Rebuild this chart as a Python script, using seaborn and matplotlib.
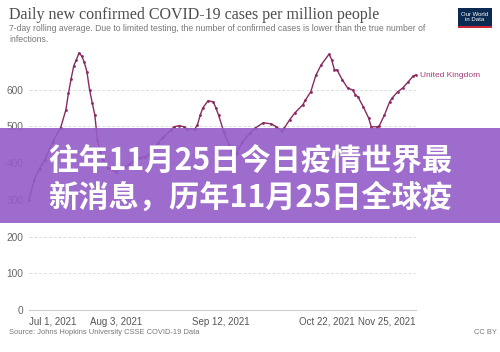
import matplotlib
matplotlib.use("Agg")
import matplotlib.pyplot as plt
import seaborn as sns
import pandas as pd
from matplotlib.patches import Rectangle

# ---------------- data ----------------
dates = [
    "2021-07-01", "2021-07-03", "2021-07-05", "2021-07-07", "2021-07-10", "2021-07-13",
    "2021-07-15", "2021-07-16", "2021-07-17", "2021-07-18", "2021-07-19", "2021-07-20",
    "2021-07-21", "2021-07-22", "2021-07-23", "2021-07-24", "2021-07-25", "2021-07-26",
    "2021-07-27", "2021-07-28", "2021-07-29", "2021-07-31", "2021-08-03", "2021-08-06",
    "2021-08-08", "2021-08-10", "2021-08-12", "2021-08-14", "2021-08-16", "2021-08-17",
    "2021-08-19", "2021-08-21", "2021-08-24", "2021-08-25", "2021-08-27", "2021-08-29",
    "2021-08-30", "2021-09-02", "2021-09-03", "2021-09-04", "2021-09-05", "2021-09-07",
    "2021-09-09", "2021-09-10", "2021-09-11", "2021-09-13", "2021-09-15", "2021-09-17",
    "2021-09-18", "2021-09-20", "2021-09-23", "2021-09-25", "2021-09-28", "2021-10-01",
    "2021-10-03", "2021-10-05", "2021-10-06", "2021-10-08", "2021-10-10", "2021-10-13",
    "2021-10-14", "2021-10-16", "2021-10-18", "2021-10-20", "2021-10-23", "2021-10-24",
    "2021-10-25", "2021-10-26", "2021-10-28", "2021-10-30", "2021-11-01", "2021-11-02",
    "2021-11-03", "2021-11-05", "2021-11-07", "2021-11-08", "2021-11-10", "2021-11-11",
    "2021-11-13", "2021-11-15", "2021-11-16", "2021-11-18", "2021-11-20", "2021-11-22",
    "2021-11-24", "2021-11-25",
]
cases_per_million = [
    300, 355, 385, 409, 458, 496,
    545, 591, 630, 665, 682, 700,
    692, 675, 649, 600, 565, 531,
    463, 430, 409, 387, 376, 390,
    395, 409, 415, 417, 425, 436,
    455, 471, 490, 499, 502, 499,
    493, 493, 505, 530, 550, 570,
    567, 550, 531, 485, 450, 412,
    428, 458, 482, 496, 510, 507,
    499, 488, 496, 518, 537, 559,
    572, 594, 640, 668, 697, 681,
    654, 654, 627, 605, 599, 586,
    580, 553, 523, 499, 499, 501,
    531, 567, 578, 594, 605, 621,
    638, 640,
]
country = "United Kingdom"
ytick_values = [0, 100, 200, 300, 400, 500, 600]
xtick_dates = ["2021-07-01", "2021-08-03", "2021-09-12", "2021-10-22", "2021-11-25"]
xtick_labels = ["Jul 1, 2021", "Aug 3, 2021", "Sep 12, 2021", "Oct 22, 2021", "Nov 25, 2021"]

title = "Daily new confirmed COVID-19 cases per million people"
subtitle = ("7-day rolling average. Due to limited testing, the number of confirmed cases is lower than the true number of\n"
            "infections.")
source = "Source: Johns Hopkins University CSSE COVID-19 Data"
license_text = "CC BY"
logo_text = "Our World\nin Data"
banner_lines = ["往年11月25日今日疫情世界最", "新消息，历年11月25日全球疫"]

# ---------------- style ----------------
sns.set_theme(style="white")
plt.rcParams['font.family'] = ['Liberation Sans', 'DejaVu Sans']

W, H = 500, 352
fig = plt.figure(figsize=(W / 100, H / 100), dpi=100)
fig.patch.set_facecolor("white")

def fx(px):
    return px / W

def fy(py):
    return 1 - py / H

ax = fig.add_axes([fx(29), fy(310), fx(416) - fx(29), fy(53) - fy(310)])

line_color = "#8a2a62"
df = pd.DataFrame({"date": pd.to_datetime(dates), "cases": cases_per_million})
sns.lineplot(data=df, x="date", y="cases", ax=ax, color=line_color, linewidth=1.0,
             marker="o", markersize=2.0, markeredgewidth=0, clip_on=False, zorder=3)

ax.set_xlim(pd.Timestamp(xtick_dates[0]), pd.Timestamp(xtick_dates[-1]))
ax.set_ylim(0, 700)
ax.set_xlabel("")
ax.set_ylabel("")

for s in ["left", "right", "top"]:
    ax.spines[s].set_visible(False)
ax.spines["bottom"].set_color("#cccccc")
ax.spines["bottom"].set_linewidth(0.8)

ax.set_yticks(ytick_values)
ax.set_yticklabels([str(v) for v in ytick_values])
ax.tick_params(axis="y", length=0, pad=4, labelsize=7.3, labelcolor="#666666")
for v in ytick_values[1:]:
    ax.axhline(v, color="#dddddd", linewidth=0.7, linestyle=(0, (3, 2)), zorder=1)

ax.set_xticks(pd.to_datetime(xtick_dates))
ax.set_xticklabels(xtick_labels)
ax.tick_params(axis="x", length=3, width=0.6, color="#cccccc", pad=2,
               labelsize=7, labelcolor="#555555", direction="out")
labels = ax.get_xticklabels()
labels[0].set_ha("left")
labels[-1].set_ha("right")

# series label
ax.annotate(country, xy=(pd.Timestamp(dates[-1]), cases_per_million[-1]),
            xytext=(3, 0), textcoords="offset points", va="center", ha="left",
            fontsize=6, color="#a23a78", annotation_clip=False)

# ---------------- header / footer ----------------
fig.text(fx(9), fy(15), title, fontsize=11.5, color="#4d4d4d",
         family=["Liberation Serif", "DejaVu Serif"], va="center", ha="left")
fig.text(fx(9), fy(24), subtitle, fontsize=6.2, color="#777777", va="top", ha="left",
         linespacing=1.3)
fig.text(fx(9), fy(332), source, fontsize=5.4, color="#777777", va="center", ha="left")
fig.text(fx(497), fy(332), license_text, fontsize=5.4, color="#777777", va="center", ha="right")

# logo
fig.add_artist(Rectangle((fx(458), fy(28)), fx(34), fy(8) - fy(28), transform=fig.transFigure,
                         facecolor="#0b2a52", edgecolor="none", zorder=5))
fig.add_artist(Rectangle((fx(458), fy(28)), fx(34), fy(26) - fy(28), transform=fig.transFigure,
                         facecolor="#c8273a", edgecolor="none", zorder=6))
fig.text(fx(475), fy(17), logo_text, fontsize=4.3, color="white", ha="center", va="center",
         linespacing=1.0, zorder=7)

# ---------------- banner ----------------
fig.add_artist(Rectangle((0, fy(223)), 1, fy(128) - fy(223), transform=fig.transFigure,
                         facecolor="#935cc8", edgecolor="none", alpha=0.9, zorder=10))
cjk = ["Noto Sans CJK SC", "DejaVu Sans"]
fig.text(0.5, fy(161), banner_lines[0], fontsize=21.8, fontweight="bold", color="white",
         family=cjk, ha="center", va="center", zorder=11)
fig.text(0.5, fy(198), banner_lines[1], fontsize=21.8, fontweight="bold", color="white",
         family=cjk, ha="center", va="center", zorder=11)

fig.savefig("out.png", dpi=100, facecolor="white")
